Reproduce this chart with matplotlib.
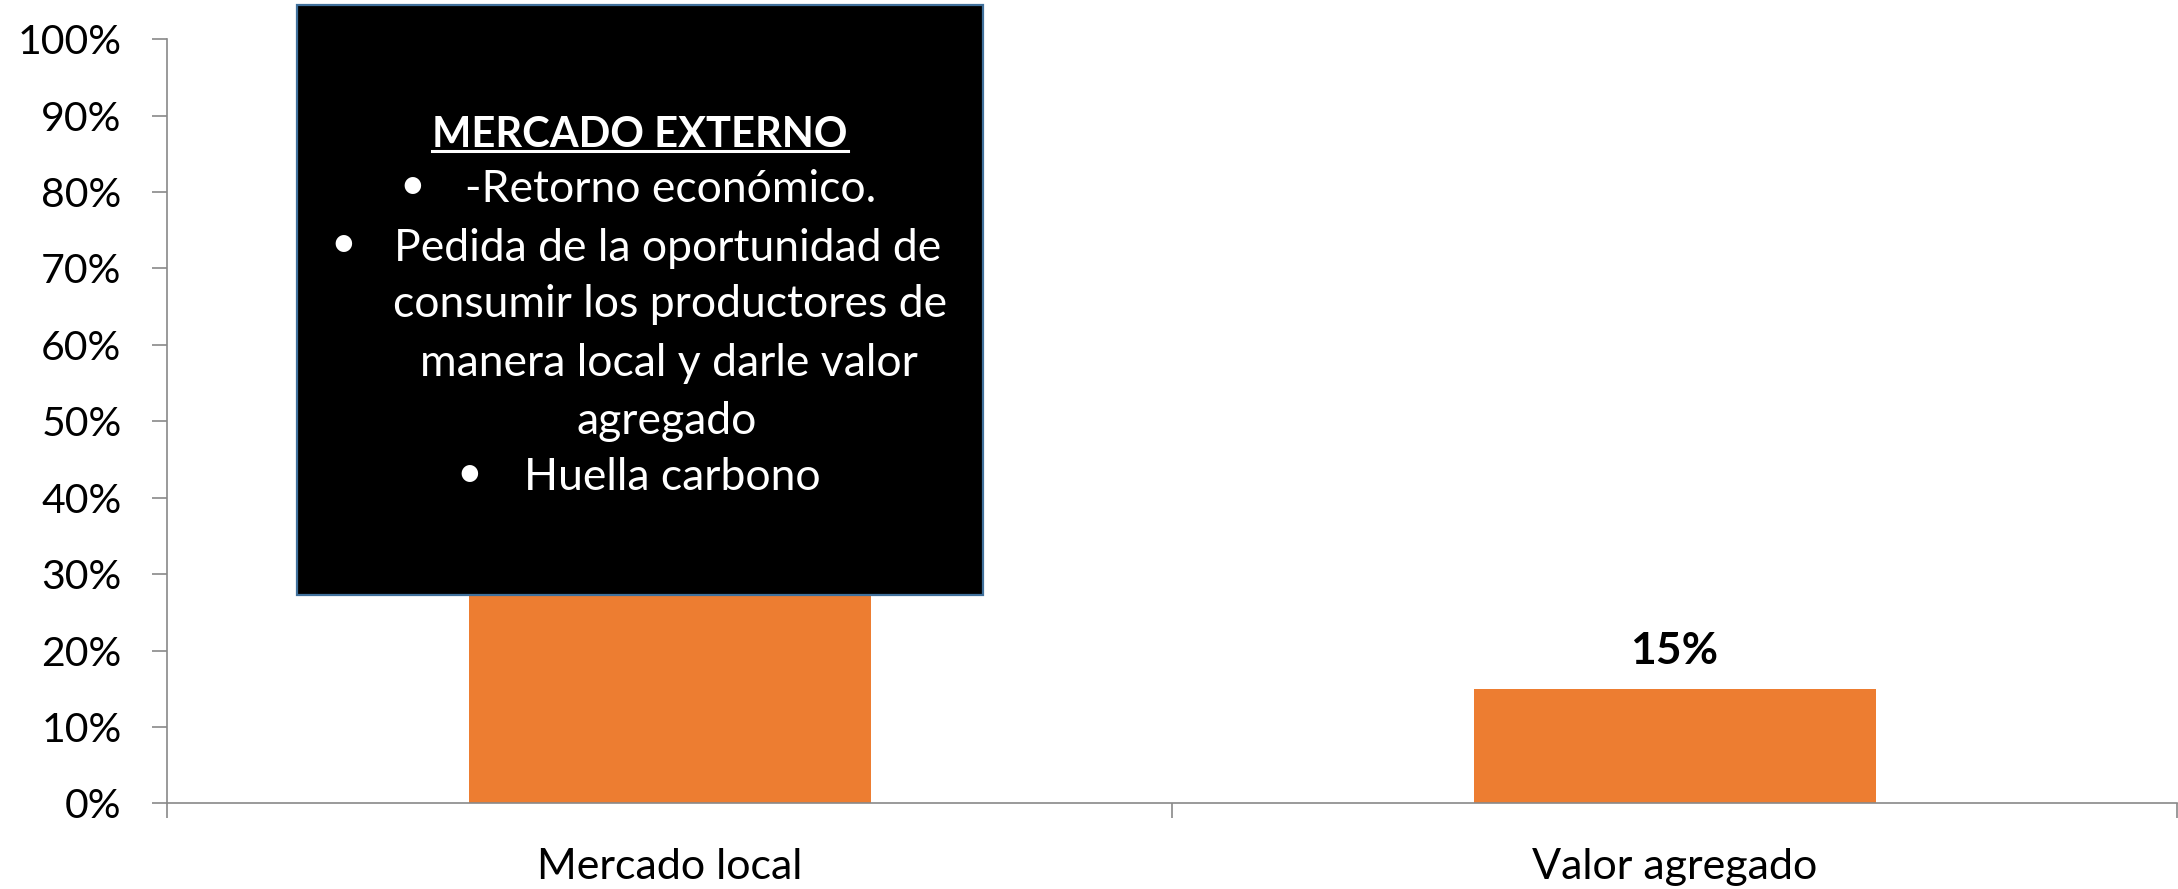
import matplotlib
matplotlib.use("Agg")
import matplotlib.pyplot as plt
from matplotlib.patches import Rectangle
from matplotlib.lines import Line2D
from matplotlib.ticker import PercentFormatter

# ---- data ----
categories = ["Mercado local", "Valor agregado"]
values = [85, 15]          # percent (first bar's top is hidden behind the text box)
value_labels = ["", "15%"]  # the first label is covered by the text box in the original
yticks = list(range(0, 101, 10))

box_title = "MERCADO EXTERNO"
box_lines = ["-Retorno económico.",
             "Pedida de la oportunidad de",
             "consumir los productores de",
             "manera local y darle valor",
             "agregado",
             "Huella carbono"]
box_bullets = [True, True, False, False, False, True]

# ---- style ----
W, H = 2178, 889
FONT = "Lato"
plt.rcParams["font.family"] = [FONT, "DejaVu Sans"]
BAR = "#ED7D31"
AXC = "#898989"

fig = plt.figure(figsize=(W / 100, H / 100), dpi=100)
ax = fig.add_axes([167 / W, 1 - 803.3 / H, 2010 / W, (803.3 - 39.3) / H])

x = list(range(len(categories)))
ax.bar(x, values, width=0.4, color=BAR, zorder=2)
ax.set_xlim(-0.5, len(categories) - 0.5)
ax.set_ylim(0, 100)

for xi, v, lab in zip(x, values, value_labels):
    if not lab:
        continue
    ax.annotate(lab, xy=(xi, v), xytext=(0, 18), textcoords="offset points",
                ha="center", va="baseline", fontsize=32, fontweight="bold",
                color="black", zorder=3)

ax.set_yticks(yticks)
ax.yaxis.set_major_formatter(PercentFormatter(decimals=0))
ax.tick_params(axis="y", length=10.8, width=1.2, color=AXC, pad=22,
               labelsize=29.5, labelcolor="black")

ax.set_xticks(x)
ax.set_xticklabels(categories)
ax.set_xticks([i - 0.5 for i in range(len(categories) + 1)], minor=True)
ax.tick_params(axis="x", which="major", length=0, pad=32, labelsize=31)
ax.tick_params(axis="x", which="minor", length=10.8, width=1.2, color=AXC)

for s in ["top", "right"]:
    ax.spines[s].set_visible(False)
for s in ["left", "bottom"]:
    ax.spines[s].set_color(AXC)
    ax.spines[s].set_linewidth(1.2)

# ---- text box ----
bx0, bx1, by0, by1 = 297, 983, 4.7, 595
fig.add_artist(Rectangle((bx0 / W, 1 - by1 / H), (bx1 - bx0) / W, (by1 - by0) / H,
                         transform=fig.transFigure, facecolor="black",
                         edgecolor="#41719C", linewidth=1.6, zorder=10))

FS = 32
title = fig.text(640 / W, 1 - 135 / H, box_title, ha="center", va="center",
                 color="white", fontsize=30, fontweight="bold", zorder=11)

line_y = [190, 248.5, 305, 364, 421, 478]
# (x position, alignment) per line
line_pos = [(465, "left"), (394.5, "left"), (670, "center"), (669, "center"),
            (667, "center"), (523.6, "left")]
bullet_x = [412.5, 343, None, None, None, 469.5]
for txt, yy, (px, ha), bxp, has_b in zip(box_lines, line_y, line_pos, bullet_x, box_bullets):
    fig.text(px / W, 1 - yy / H, txt, ha=ha, va="center",
             color="white", fontsize=FS, zorder=11)
    if has_b:
        fig.text(bxp / W, 1 - (yy - 4) / H, "\u2022", ha="center", va="center",
                 color="white", fontsize=FS, zorder=11)

fig.canvas.draw()
bb = title.get_window_extent()
uy = 1 - 151 / H
fig.add_artist(Line2D([bb.x0 / W, bb.x1 / W], [uy, uy], transform=fig.transFigure,
                      color="white", linewidth=2.2, zorder=11))

fig.savefig("out.png", dpi=100, facecolor="white")
